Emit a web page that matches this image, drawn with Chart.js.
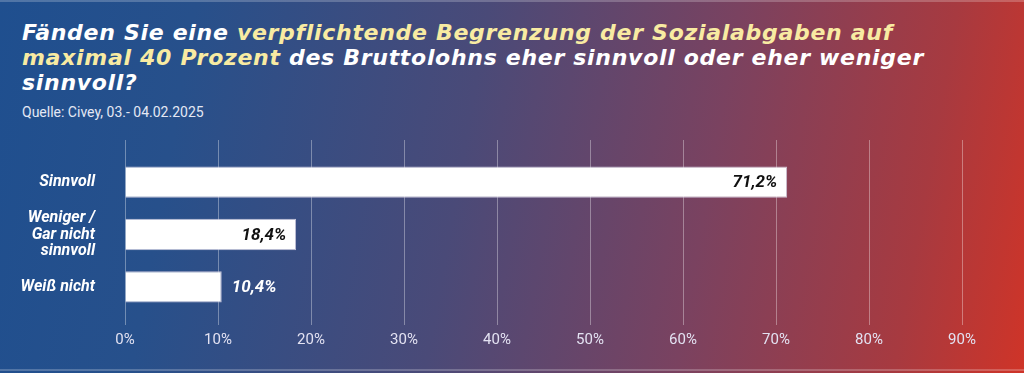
<!DOCTYPE html>
<html>
<head>
<meta charset="utf-8">
<script src="https://cdn.jsdelivr.net/npm/chart.js@4"></script>
<style>
  html, body { margin: 0; padding: 0; }
  body {
    width: 1024px; height: 373px; overflow: hidden; position: relative;
    background: linear-gradient(100deg, #1f4f8f 0%, #27508b 18%, #4a4a78 45%, #7a4260 68%, #a73a40 88%, #cf3428 100%);
    font-family: Roboto, "Liberation Sans", sans-serif;
  }
  .edge { position: absolute; left: 0; right: 0; height: 2px; background: rgba(255,255,255,0.22); }
  #title {
    position: absolute; left: 22px; top: 20px; width: 990px;
    color: #fff; font-family: "DejaVu Sans", sans-serif;
    font-size: 22px; line-height: 25px; font-weight: bold; font-style: italic;
    letter-spacing: 0.7px; white-space: nowrap;
  }
  #title .hl { color: #f8eba2; }
  #sub { position: absolute; left: 22px; top: 104px; color: #e4e8f4; font-size: 14px; }
  #wrap { position: absolute; left: 0; top: 0; width: 1024px; height: 373px; }
</style>
</head>
<body>
<div class="edge" style="top:0"></div>
<div class="edge" style="bottom:2px"></div>
<div id="title">Fänden Sie eine <span class="hl">verpflichtende Begrenzung der Sozialabgaben auf<br>maximal 40 Prozent</span> des Bruttolohns eher sinnvoll oder eher weniger<br>sinnvoll?</div>
<div id="sub">Quelle: Civey, 03.- 04.02.2025</div>
<div id="wrap"><canvas id="myChart"></canvas></div>
<script>
const ctx = "myChart";

// data
let mylabels = ["Sinnvoll", ["Weniger /", "Gar nicht", "sinnvoll"], "Weiß nicht"];
let myData = [71.2, 18.4, 10.4];
let xTicks = [0, 10, 20, 30, 40, 50, 60, 70, 80, 90];

const gridColor = "rgba(255, 255, 255, 0.35)";

// grid lines reach a bit above the bars
const gridTop = {
  id: "gridTop",
  beforeDatasetsDraw(chart) {
    const c = chart.ctx, x = chart.scales.x, area = chart.chartArea;
    c.save();
    c.strokeStyle = gridColor;
    c.lineWidth = 1;
    xTicks.forEach((t) => {
      const px = Math.round(x.getPixelForValue(t)) + 0.5;
      c.beginPath();
      c.moveTo(px, area.top - 16);
      c.lineTo(px, area.top);
      c.stroke();
    });
    c.restore();
  },
};

// value labels: inside the bar (black) or after it (white)
const valueLabels = {
  id: "valueLabels",
  afterDatasetsDraw(chart) {
    const c = chart.ctx;
    const meta = chart.getDatasetMeta(0);
    c.save();
    c.font = "italic bold 17px Roboto";
    c.textBaseline = "middle";
    meta.data.forEach((bar, i) => {
      const txt = myData[i].toFixed(1).replace(".", ",") + "%";
      const w = bar.x - bar.base;
      if (w > 130) {
        c.fillStyle = "#111";
        c.textAlign = "right";
        c.fillText(txt, bar.x - 10, bar.y + 1);
      } else {
        c.fillStyle = "#fff";
        c.textAlign = "left";
        c.fillText(txt, bar.x + 10, bar.y + 1);
      }
    });
    c.restore();
  },
};

const data = {
  labels: mylabels,
  datasets: [
    {
      data: myData,
      backgroundColor: "#ffffff",
      borderColor: "rgba(210, 205, 225, 0.9)",
      borderWidth: 1,
      barPercentage: 0.6,
      categoryPercentage: 1,
    },
  ],
};

const myChart = new Chart(ctx, {
  type: "bar",
  data: data,
  plugins: [gridTop, valueLabels],
  options: {
    indexAxis: "y",
    responsive: true,
    maintainAspectRatio: false,
    animation: false,
    layout: { padding: { top: 156, right: 62, left: 0, bottom: 0 } },
    plugins: { legend: { display: false }, tooltip: { enabled: false } },
    scales: {
      x: {
        min: 0,
        max: 90,
        afterBuildTicks: (s) => { s.ticks = xTicks.map((v) => ({ value: v })); },
        afterFit: (s) => { s.height = 60; },
        grid: { color: gridColor, tickLength: 12, drawTicks: true },
        border: { display: false },
        ticks: {
          color: "#e3e2f2",
          font: { family: "Roboto", size: 15 },
          padding: 6,
          callback: (v) => v + "%",
        },
      },
      y: {
        afterFit: (s) => { s.width = 125; },
        grid: { display: false, drawTicks: false },
        border: { display: false },
        ticks: {
          color: "#ffffff",
          padding: 30,
          autoSkip: false,
          font: { family: "Roboto", size: 16, weight: "bold", style: "italic", lineHeight: 1.05 },
        },
      },
    },
  },
});
</script>
</body>
</html>
